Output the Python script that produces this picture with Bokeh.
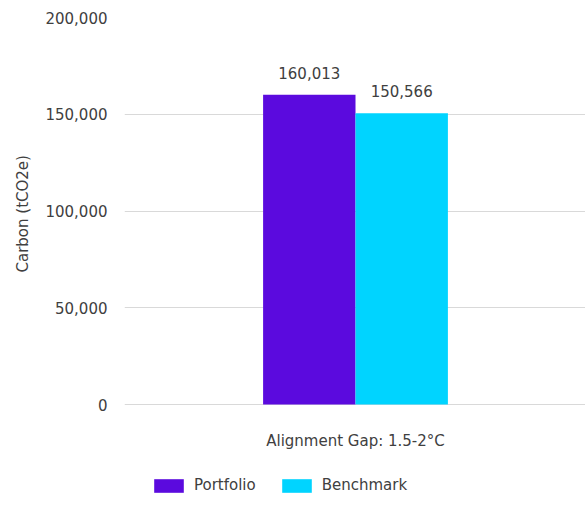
from bokeh.plotting import figure
from bokeh.models import (FactorRange, ColumnDataSource, LabelSet, Legend, LegendItem,
                          NumeralTickFormatter, Range1d, FixedTicker, Title)
from bokeh.core.properties import value
from bokeh.transform import dodge
from bokeh.embed import file_html
from bokeh.resources import INLINE

categories = ["Alignment Gap: 1.5-2°C"]
series = ["Portfolio", "Benchmark"]
portfolio = [160013]
benchmark = [150566]
y_ticks = [0, 50000, 100000, 150000, 200000]
y_title = "Carbon (tCO2e)"

colors = ["#5B0ADE", "#00D4FF"]
FONT = "DejaVu Sans"
FS = "15px"
TEXT = "#404040"

source = ColumnDataSource(dict(
    cat=categories,
    portfolio=portfolio,
    benchmark=benchmark,
    base=[0] * len(categories),
    plab=[f"{v:,}" for v in portfolio],
    blab=[f"{v:,}" for v in benchmark],
))

# frame runs down to the bottom of the figure so the legend can sit inside it
y_max = 200000
y_min = -y_max * 90 / 387

p = figure(x_range=FactorRange(*categories), y_range=Range1d(y_min, y_max),
           frame_width=462, frame_height=477, output_backend="svg", toolbar_location=None,
           min_border_left=115, min_border_top=17, min_border_right=0, min_border_bottom=0)

r1 = p.vbar(x=dodge("cat", -0.1, range=p.x_range), top="portfolio", width=0.2,
            source=source, fill_color=colors[0], line_color=None)
r2 = p.vbar(x=dodge("cat", 0.1, range=p.x_range), top="benchmark", width=0.2,
            source=source, fill_color=colors[1], line_color=None)

for col, lab, off in [("portfolio", "plab", -0.1), ("benchmark", "blab", 0.1)]:
    ls = LabelSet(x=dodge("cat", off, range=p.x_range), y=col, text=lab, source=source,
                  text_align="center", text_baseline="bottom", y_offset=16,
                  text_font=value(FONT), text_font_size=value(FS), text_color=TEXT)
    p.add_layout(ls)

# category label under the baseline
cat_labels = LabelSet(x="cat", y="base", text="cat", source=source,
                      text_align="center", text_baseline="top", y_offset=-27,
                      text_font=value(FONT), text_font_size=value(FS), text_color=TEXT)
p.add_layout(cat_labels)

p.outline_line_color = None
p.xgrid.grid_line_color = None
p.ygrid.grid_line_color = "#d9d9d9"
p.ygrid.grid_line_width = 1
p.xaxis.visible = False

ya = p.yaxis[0]
ya.ticker = FixedTicker(ticks=y_ticks)
ya.formatter = NumeralTickFormatter(format="0,0")
ya.axis_line_color = None
ya.major_tick_line_color = None
ya.minor_tick_line_color = None
ya.major_label_standoff = 11
ya.major_label_text_font = FONT
ya.major_label_text_font_size = FS
ya.major_label_text_color = TEXT

p.add_layout(Title(text=y_title, align="left", offset=222, standoff=22,
                   text_font=FONT, text_font_size=FS, text_font_style="normal",
                   text_color=TEXT), "left")

legend = Legend(items=[LegendItem(label=series[0], renderers=[r1]),
                       LegendItem(label=series[1], renderers=[r2])],
                orientation="horizontal", location=(26, 0),
                glyph_width=37, glyph_height=17, label_standoff=7, spacing=22,
                padding=0, margin=0, border_line_color=None, background_fill_alpha=0,
                label_text_font=FONT, label_text_font_size=FS, label_text_color=TEXT,
                label_height=17)
p.add_layout(legend, "center")

open("out.html", "w").write(file_html(p, INLINE))
